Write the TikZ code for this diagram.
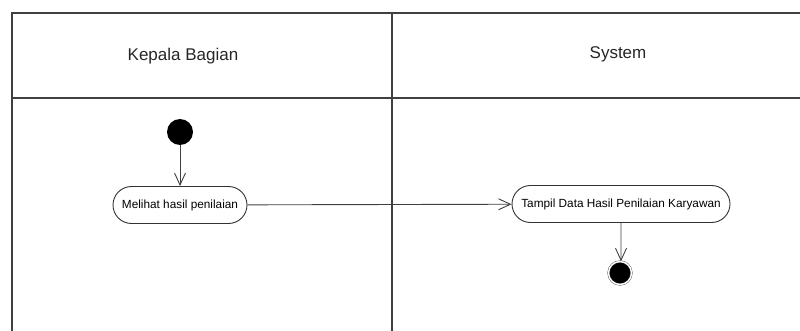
\documentclass[tikz,border=0pt]{standalone}
\usepackage{fontspec}
\setmainfont{Liberation Sans}
\usepackage{tikz}
\usetikzlibrary{arrows.meta,shapes}
\tikzstyle{lane}=[draw=black!75,line width=1.1pt]
\tikzstyle{lane title}=[font=\fontsize{17}{20}\selectfont,text=black!85]
\tikzstyle{initial}=[circle,fill=black,minimum size=26pt,inner sep=0pt]
\tikzstyle{final}=[circle,fill=black,draw=black!70,double=white,double distance=1.4pt,minimum size=23pt,inner sep=0pt]
\tikzstyle{activity}=[rounded rectangle,draw=black!80,line width=0.9pt,minimum height=37pt,inner xsep=6pt,font=\fontsize{11.8}{14}\selectfont]
\tikzstyle{flow}=[draw=black!75,line width=0.9pt,-{Straight Barb[length=12pt,width=11pt]}]

\begin{document}
\begin{tikzpicture}[x=1pt,y=-1pt]
    \useasboundingbox (0,0) rectangle (800,331);
    % swimlanes
    \path[lane] (12,331) -- (12,13) -- (800,13);
    \path[lane] (12,98) -- (800,98);
    \path[lane] (392,13) -- (392,331);
    \foreach \pos/\name/\title in {{(183,56)/kabag/Kepala Bagian}, {(618,54)/sys/System}}
        \node[lane title] (\name) at \pos {\title};
    % nodes
    \node[initial] (start) at (180,132) {};
    \node[activity,minimum width=146pt] (lihat) at (180,205) {Melihat hasil penilaian};
    \node[activity,minimum width=230pt] (tampil) at (621,204) {Tampil Data Hasil Penilaian Karyawan};
    \node[final] (stop) at (620,273) {};
    % flows
    \foreach \source/\dest in {start/lihat, tampil/stop}
        \path[flow] (\source) -- (\source |- \dest.north);
    \path[flow] (lihat) -- (tampil);
\end{tikzpicture}
\end{document}
